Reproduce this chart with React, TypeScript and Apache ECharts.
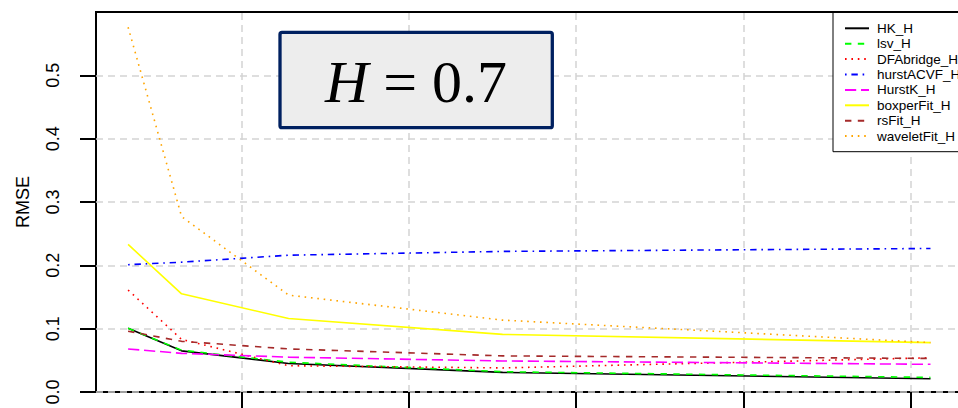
import React, { useEffect, useRef } from 'react';
import * as echarts from 'echarts';

// sample sizes (x values)
const sampleSizes = [64, 128, 256, 512, 1024];
const xTicks = [200, 400, 600, 800, 1000];
const yTicks = [0, 0.1, 0.2, 0.3, 0.4, 0.5];

const seriesNames = ['HK_H', 'lsv_H', 'DFAbridge_H', 'hurstACVF_H', 'HurstK_H', 'boxperFit_H', 'rsFit_H', 'waveletFit_H'];

const hkH = [0.1005, 0.065, 0.045, 0.031, 0.021];
const lsvH = [0.1005, 0.066, 0.047, 0.032, 0.023];
const dfaBridgeH = [0.161, 0.083, 0.0415, 0.038, 0.054];
const hurstAcvfH = [0.201, 0.205, 0.216, 0.222, 0.2266];
const hurstKH = [0.068, 0.061, 0.055, 0.049, 0.0437];
const boxperFitH = [0.233, 0.155, 0.116, 0.091, 0.078];
const rsFitH = [0.096, 0.080, 0.068, 0.057, 0.053];
const waveletFitH = [0.576, 0.277, 0.153, 0.1135, 0.078];

const titleLabel = 'H = 0.7';
const yName = 'RMSE';

const LW = 1.6;
const seriesStyles: { color: string; dash: number[] | 'solid' }[] = [
  { color: '#000000', dash: 'solid' },
  { color: '#00FF00', dash: [4 * LW, 4 * LW] },
  { color: '#FF0000', dash: [1 * LW, 3 * LW] },
  { color: '#0000FF', dash: [1 * LW, 3 * LW, 4 * LW, 3 * LW] },
  { color: '#FF00FF', dash: [7 * LW, 3 * LW] },
  { color: '#FFFF00', dash: 'solid' },
  { color: '#A52A2A', dash: [4 * LW, 4 * LW] },
  { color: '#FFA500', dash: [1 * LW, 3 * LW] },
];
const seriesValues = [hkH, lsvH, dfaBridgeH, hurstAcvfH, hurstKH, boxperFitH, rsFitH, waveletFitH];

export default function App() {
  const ref = useRef<HTMLDivElement>(null);
  useEffect(() => {
    if (!ref.current) return;
    const chart = echarts.init(ref.current, null, { renderer: 'svg' });
    const grid = '#D3D3D3';
    const series: any[] = seriesNames.map((name, k) => ({
      name,
      type: 'line',
      data: sampleSizes.map((x, i) => [x, seriesValues[k][i]]),
      symbol: 'none',
      showSymbol: false,
      lineStyle: { color: seriesStyles[k].color, width: LW, type: seriesStyles[k].dash },
      itemStyle: { color: seriesStyles[k].color },
      z: 3,
    }));
    series[0].markLine = {
      silent: true,
      symbol: ['none', 'none'],
      label: { show: false },
      lineStyle: { color: grid, type: [7, 5], width: 1.5 },
      data: xTicks.map((v) => ({ xAxis: v })),
      z: 1,
    };
    chart.setOption({
      animation: false,
      backgroundColor: '#ffffff',
      grid: {
        left: 96,
        top: 12,
        width: 866.6,
        height: 380,
        outerBoundsMode: 'none',
        containLabel: false,
        show: true,
        borderColor: '#000',
        borderWidth: 2,
        backgroundColor: 'transparent',
      },
      xAxis: {
        type: 'value',
        min: 25.6,
        max: 1062.4,
        axisLine: { show: false },
        axisTick: { show: true, customValues: xTicks, length: 16, lineStyle: { color: '#000', width: 2 } },
        axisLabel: { show: false, customValues: xTicks },
        splitLine: { show: false },
      },
      yAxis: {
        type: 'value',
        min: 0,
        max: 0.6,
        interval: 0.1,
        name: yName,
        nameLocation: 'middle',
        nameGap: 64,
        nameRotate: 90,
        nameTextStyle: { fontSize: 18, fontFamily: 'Liberation Sans', color: '#000' },
        axisLine: { show: false },
        axisTick: { show: true, customValues: yTicks, length: 16, lineStyle: { color: '#000', width: 2 } },
        axisLabel: {
          customValues: yTicks,
          rotate: 90,
          margin: 34,
          fontSize: 18,
          fontFamily: 'Liberation Sans',
          color: '#000',
          formatter: (v: number) => v.toFixed(1),
        },
        splitLine: { show: true, lineStyle: { color: grid, type: [7, 5], width: 1.5 } },
      },
      legend: {
        orient: 'vertical',
        left: 833,
        top: 12.5,
        padding: [8.8, 14, 8.6, 11],
        itemWidth: 24,
        itemHeight: 14,
        itemGap: 1.4,
        borderColor: '#000',
        borderWidth: 1,
        backgroundColor: '#fff',
        itemStyle: { opacity: 0 },
        textStyle: { fontSize: 13.5, fontFamily: 'Liberation Sans', color: '#000', padding: [0, 0, 0, 3] },
        data: seriesNames,
        z: 20,
      },
      graphic: [
        {
          type: 'rect',
          shape: { x: 280, y: 32.4, width: 272.3, height: 95.3, r: 2 },
          style: { fill: '#EDEDED', stroke: '#002060', lineWidth: 3.3 },
          z: 30,
        },
        {
          type: 'text',
          x: 416,
          y: 82,
          style: {
            text: '{i|H} = 0.7',
            rich: { i: { fontStyle: 'italic', fontFamily: 'Liberation Serif', fontSize: 60, fill: '#000' } },
            fontFamily: 'Liberation Serif',
            fontSize: 60,
            fill: '#000',
            align: 'center',
            verticalAlign: 'middle',
          },
          z: 31,
        },
      ],
      series,
    });
    return () => chart.dispose();
  }, []);
  return (
    <div
      ref={ref}
      aria-label={titleLabel}
      style={{ position: 'fixed', left: 0, top: 0, width: 958, height: 408, background: '#fff' }}
    />
  );
}
